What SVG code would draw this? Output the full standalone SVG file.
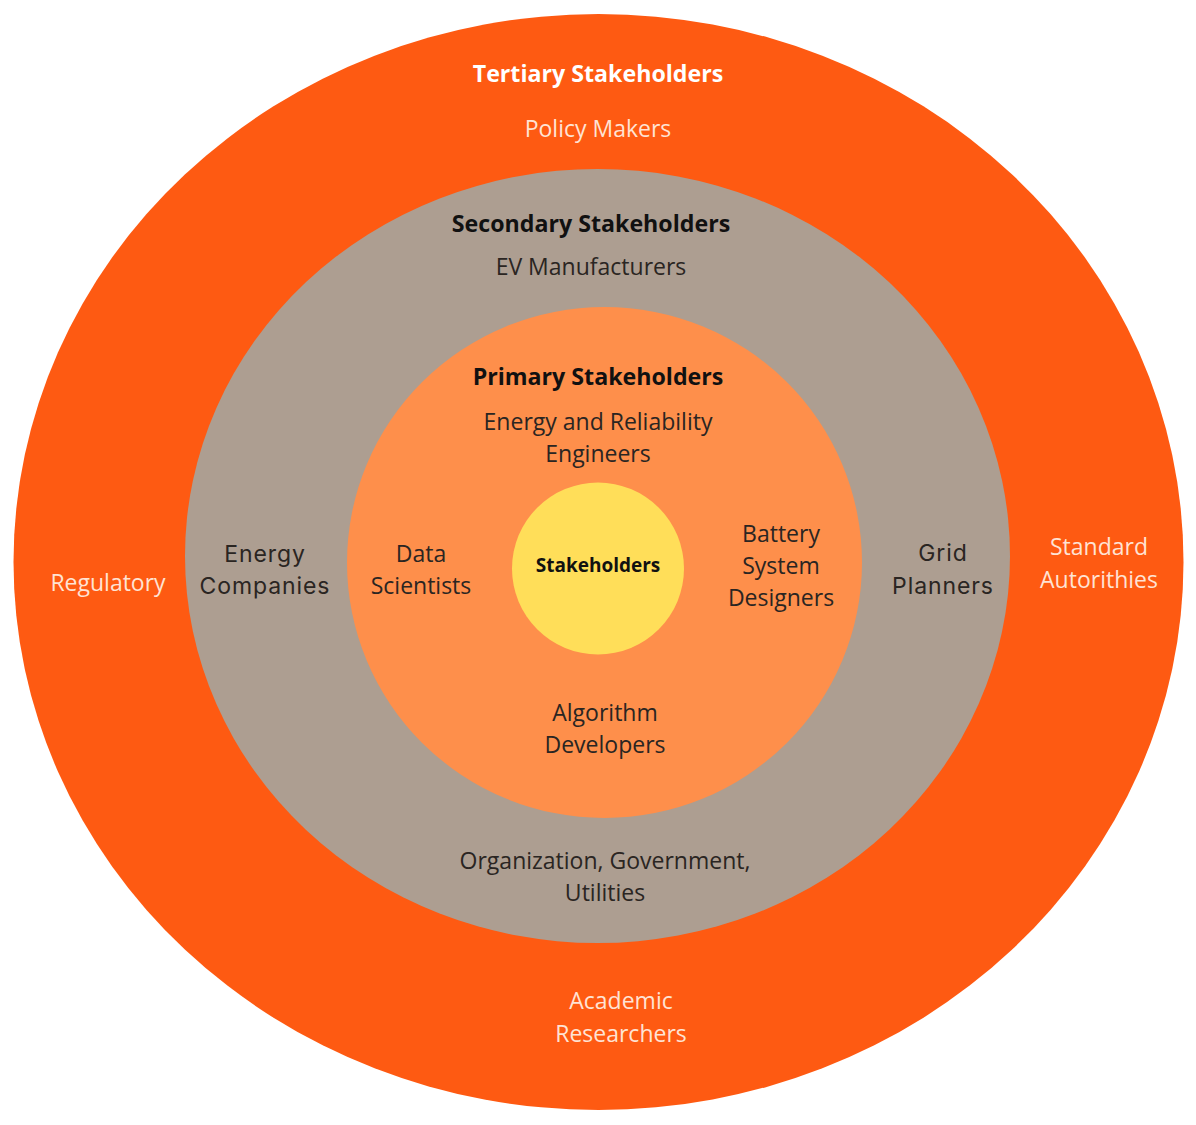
<svg xmlns="http://www.w3.org/2000/svg" width="1196" height="1125" viewBox="0 0 1196 1125">
<style>
text{font-family:"Open Sans","Noto Sans","Liberation Sans",sans-serif;font-size:23px;text-anchor:middle}
.h{font-weight:bold;font-size:23.2px}
.w{fill:#ffffff}
.lt{fill:#ffe3d4}
.dk{fill:#2a2522}
.m{font-family:Inter,"Open Sans",sans-serif;font-size:23px;letter-spacing:0.9px}
</style>
<rect width="1196" height="1125" fill="#ffffff"/>
<g id="tertiary">
<ellipse cx="598.5" cy="562" rx="585" ry="548" fill="#fe5a12"/>
<text class="h w" x="598" y="82">Tertiary Stakeholders</text>
<text class="lt" x="598" y="137">Policy Makers</text>
<text class="lt" x="108" y="591">Regulatory</text>
<text class="lt" x="1099" y="555">Standard</text>
<text class="lt" x="1099" y="588">Autorithies</text>
<text class="lt" x="621" y="1009">Academic</text>
<text class="lt" x="621" y="1042">Researchers</text>
</g>
<g id="secondary">
<ellipse cx="597.5" cy="556" rx="412.5" ry="387" fill="#ad9e91"/>
<text class="h" x="591" y="232" fill="#111">Secondary Stakeholders</text>
<text class="dk" x="591" y="275">EV Manufacturers</text>
<text class="dk m" x="265" y="562">Energy</text>
<text class="dk m" x="265" y="594">Companies</text>
<text class="dk m" x="943" y="561">Grid</text>
<text class="dk m" x="943" y="594">Planners</text>
<text class="dk" x="605" y="869">Organization, Government,</text>
<text class="dk" x="605" y="901">Utilities</text>
</g>
<g id="primary">
<ellipse cx="604.5" cy="562.5" rx="257.5" ry="255.5" fill="#fe8f4b"/>
<text class="h" x="598" y="385" fill="#111">Primary Stakeholders</text>
<text class="dk" x="598" y="430">Energy and Reliability</text>
<text class="dk" x="598" y="462">Engineers</text>
<text class="dk" x="421" y="562">Data</text>
<text class="dk" x="421" y="594">Scientists</text>
<text class="dk" x="781" y="542">Battery</text>
<text class="dk" x="781" y="574">System</text>
<text class="dk" x="781" y="606">Designers</text>
<text class="dk" x="605" y="721">Algorithm</text>
<text class="dk" x="605" y="753">Developers</text>
</g>
<g id="core">
<circle cx="598" cy="568.5" r="86" fill="#ffde59"/>
<text class="h" x="598" y="572" fill="#111" style="font-size:19px">Stakeholders</text>
</g>
<g id="connectors"/>
</svg>
